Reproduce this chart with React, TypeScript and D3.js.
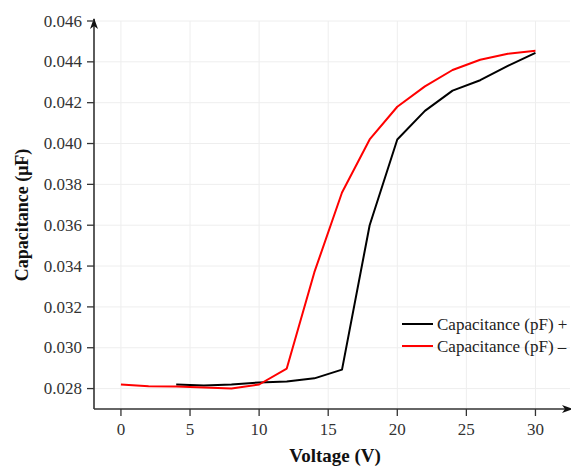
import React from "react";
import * as d3 from "d3";

const voltPlus = [4, 6, 8, 10, 12, 14, 16, 18, 20, 22, 24, 26, 28, 30];
const capPlus = [0.0282, 0.02815, 0.0282, 0.0283, 0.02835, 0.0285, 0.02893, 0.036, 0.0402, 0.0416, 0.04259, 0.0431, 0.0438, 0.04444];
const voltMinus = [0, 2, 4, 6, 8, 10, 12, 14, 16, 18, 20, 22, 24, 26, 28, 30];
const capMinus = [0.0282, 0.02812, 0.0281, 0.02805, 0.028, 0.0282, 0.02898, 0.0337, 0.0376, 0.0402, 0.0418, 0.0428, 0.0436, 0.0441, 0.0444, 0.04454];
const xTicks = [0, 5, 10, 15, 20, 25, 30];
const yTicks = [0.028, 0.03, 0.032, 0.034, 0.036, 0.038, 0.04, 0.042, 0.044, 0.046];
const seriesNames = ["Capacitance (pF) +", "Capacitance (pF) \u2013"];

const W = 571;
const H = 466;
const left = 94;
const right = 570;
const top = 21;
const bottom = 409;
const serif = "'Liberation Serif', 'Times New Roman', serif";

export default function App() {
  const x = d3.scaleLinear().domain([-1.95, 32.5]).range([left, right]);
  const y = d3.scaleLinear().domain([0.027, 0.046]).range([bottom, top]);
  const line = d3
    .line<[number, number]>()
    .x((d) => x(d[0]))
    .y((d) => y(d[1]));
  const plus = voltPlus.map((v, i) => [v, capPlus[i]] as [number, number]);
  const minus = voltMinus.map((v, i) => [v, capMinus[i]] as [number, number]);
  const axisColor = "#333";
  const txt = { fontFamily: serif, fontWeight: 400 };
  const bold = { fontFamily: serif, fontWeight: 700 };

  return (
    <svg width={W} height={H} style={{ position: "absolute", left: 0, top: 0 }}>
      <rect width={W} height={H} fill="#fff" />
      {/* grid */}
      {xTicks.map((t) => (
        <line key={"gx" + t} x1={x(t)} x2={x(t)} y1={top} y2={bottom} stroke="#eeeeee" strokeWidth={1} />
      ))}
      {yTicks.map((t) => (
        <line key={"gy" + t} x1={left} x2={right} y1={y(t)} y2={y(t)} stroke="#eeeeee" strokeWidth={1} />
      ))}
      {/* series */}
      <path d={line(plus) || ""} fill="none" stroke="#000" strokeWidth={2} strokeLinejoin="round" />
      <path d={line(minus) || ""} fill="none" stroke="#ff0000" strokeWidth={2} strokeLinejoin="round" />
      {/* y axis */}
      <line x1={left} x2={left} y1={bottom} y2={top - 2} stroke={axisColor} strokeWidth={1.6} />
      <path d={`M${left - 4},${top + 8} L${left},${top - 3} L${left + 4},${top + 8} L${left},${top + 5} Z`} fill="#111" />
      {yTicks.map((t) => (
        <g key={"ty" + t}>
          <line x1={left - 7} x2={left} y1={y(t)} y2={y(t)} stroke={axisColor} strokeWidth={1.3} />
          <text x={left - 12} y={y(t)} dy="0.33em" textAnchor="end" fontSize={17} fill="#333" style={txt}>
            {t.toFixed(3)}
          </text>
        </g>
      ))}
      {/* x axis */}
      <line x1={left} x2={right} y1={bottom} y2={bottom} stroke={axisColor} strokeWidth={1.6} />
      <path d={`M${right - 8},${bottom - 4} L${right + 3},${bottom} L${right - 8},${bottom + 4} L${right - 5},${bottom} Z`} fill="#111" />
      {xTicks.map((t) => (
        <g key={"tx" + t}>
          <line x1={x(t)} x2={x(t)} y1={bottom} y2={bottom + 7} stroke={axisColor} strokeWidth={1.3} />
          <text x={x(t)} y={bottom + 26} textAnchor="middle" fontSize={17} fill="#333" style={txt}>
            {t}
          </text>
        </g>
      ))}
      {/* titles */}
      <text x={335} y={462} textAnchor="middle" fontSize={19} fill="#111" style={bold}>
        Voltage (V)
      </text>
      <text
        transform={`translate(28,${(top + bottom) / 2}) rotate(-90)`}
        textAnchor="middle"
        fontSize={18}
        fill="#111"
        style={bold}
      >
        Capacitance (μF)
      </text>
      {/* legend */}
      {seriesNames.map((name, i) => (
        <g key={name} transform={`translate(402,${324 + i * 22})`}>
          <line x1={0} x2={31} y1={0} y2={0} stroke={i === 0 ? "#000" : "#ff0000"} strokeWidth={2} />
          <text x={35} y={0} dy="0.33em" fontSize={17} fill="#222" style={txt}>
            {name}
          </text>
        </g>
      ))}
    </svg>
  );
}
